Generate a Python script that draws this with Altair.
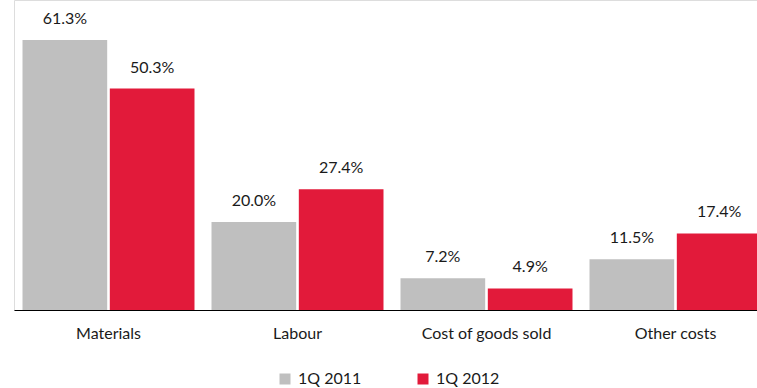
import altair as alt
import pandas as pd

categories = ["Materials", "Labour", "Cost of goods sold", "Other costs"]
series = ["1Q 2011", "1Q 2012"]
values_2011 = [61.3, 20.0, 7.2, 11.5]
values_2012 = [50.3, 27.4, 4.9, 17.4]
colors = ["#BFBFBF", "#E21A3A"]

rows = []
for c, a, b in zip(categories, values_2011, values_2012):
    rows.append({"category": c, "period": series[0], "value": a})
    rows.append({"category": c, "period": series[1], "value": b})
df = pd.DataFrame(rows)
df["label"] = df["value"].map(lambda v: f"{v:.1f}%")

FONT = "Lato"
FS = 16

x = alt.X("category:N", sort=categories,
          scale=alt.Scale(paddingInner=0.09, paddingOuter=0.045, range=[0, 756]),
          axis=alt.Axis(title=None, labelAngle=0, ticks=False, labelPadding=15,
                        labelFontSize=FS, labelFont=FONT, labelColor="#1a1a1a",
                        domainColor="#000000", domainWidth=1.2))
xo = alt.XOffset("period:N", sort=series, scale=alt.Scale(paddingInner=0.03))
y = alt.Y("value:Q", scale=alt.Scale(domain=[0, 70.4], nice=False),
          axis=None)

bars = alt.Chart(df).mark_bar().encode(
    x=x, xOffset=xo, y=y,
    color=alt.Color("period:N", sort=series,
                    scale=alt.Scale(domain=series, range=colors),
                    legend=alt.Legend(title=None, orient="none", direction="horizontal",
                                      legendX=263, legendY=371,
                                      symbolType="square", symbolSize=121,
                                      symbolStrokeWidth=0, symbolOpacity=1,
                                      labelFont=FONT, labelFontSize=FS,
                                      labelColor="#1a1a1a", columnPadding=53,
                                      labelOffset=5)),
)

labels = alt.Chart(df).mark_text(dy=-16, fontSize=FS, font=FONT, color="#1a1a1a",
                                 baseline="alphabetic").encode(
    x=x, xOffset=xo, y=y, text="label:N"
)

chart = (bars + labels).properties(
    width=743, height=310,
    autosize=alt.AutoSizeParams(type="none"),
    padding={"left": 14, "top": 0, "right": 0, "bottom": 78},
).configure_view(stroke=None).configure(background="#ffffff")

chart.save("out.html", embed_options={"renderer": "svg", "actions": False})
